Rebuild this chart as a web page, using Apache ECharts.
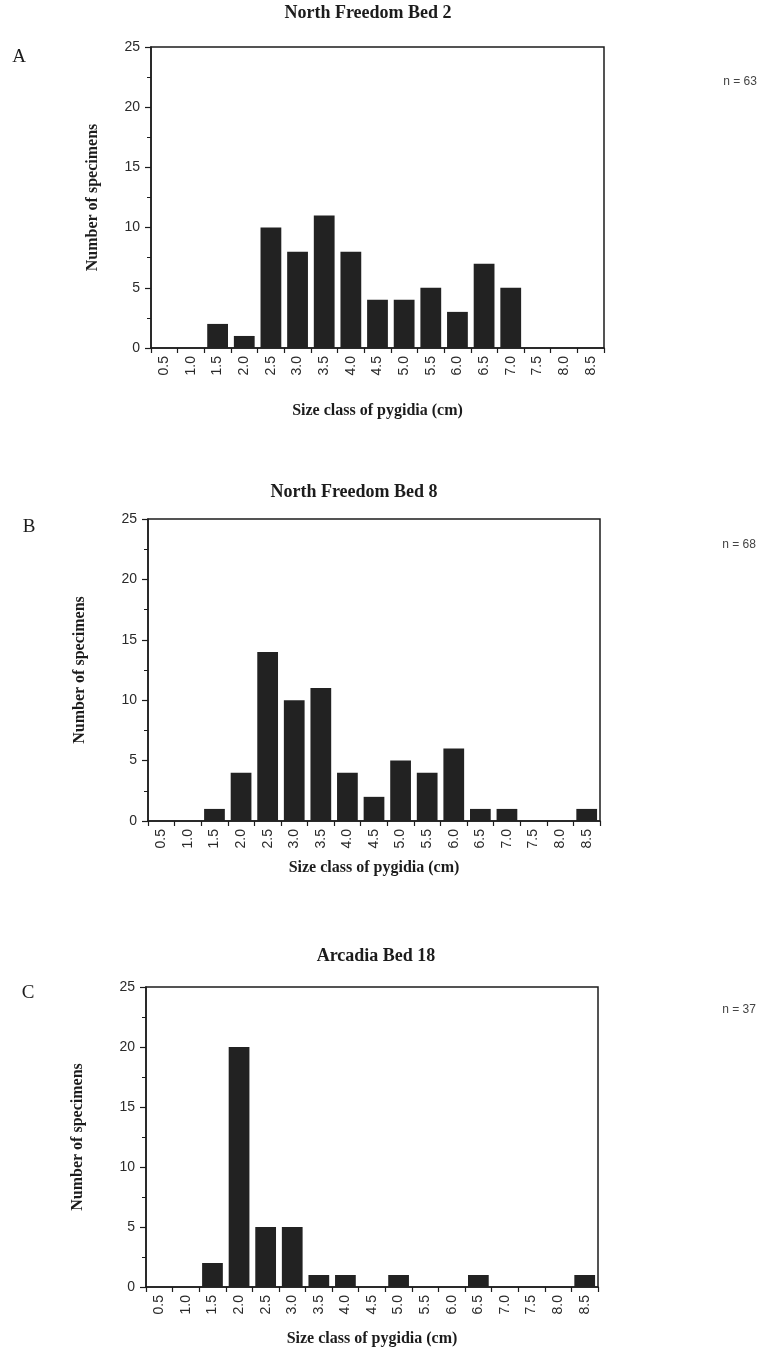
<!DOCTYPE html>
<html>
<head>
<meta charset="utf-8">
<script src="https://cdn.jsdelivr.net/npm/echarts@6/dist/echarts.min.js"></script>
<style>
html,body{margin:0;padding:0;background:#fff;}
#c{width:772px;height:1372px;}
</style>
</head>
<body>
<div id="c"></div>
<script>
const sizeClasses = ['0.5','1.0','1.5','2.0','2.5','3.0','3.5','4.0','4.5','5.0','5.5','6.0','6.5','7.0','7.5','8.0','8.5'];
const bed2Counts  = [0,0,2,1,10,8,11,8,4,4,5,3,7,5,0,0,0];
const bed8Counts  = [0,0,1,4,14,10,11,4,2,5,4,6,1,1,0,0,1];
const arc18Counts = [0,0,2,20,5,5,1,1,0,1,0,0,1,0,0,0,1];
const panelTitles = ['North Freedom Bed 2','North Freedom Bed 8','Arcadia Bed 18'];
const panelLetters = ['A','B','C'];
const sampleSizes = ['n = 63','n = 68','n = 37'];
const yTitle = 'Number of specimens';
const xTitle = 'Size class of pygidia (cm)';

const SERIF = '"Liberation Serif","DejaVu Serif",serif';
const SANS = '"Liberation Sans",Arial,sans-serif';
const INK = '#1c1c1c';

const grids = [
  {left:151, top:47, width:453, height:301},
  {left:148, top:519, width:452, height:302},
  {left:146, top:987, width:452, height:300}
];
const yNameGaps = [50, 60, 60];
const xNameGaps = [55, 39, 44];
const titlePos = [[368,13],[354,492],[376,956]];
const letterPos = [[19,57],[29,527],[28,993]];
const nPos = [[740,82],[739,545],[739,1010]];
const allCounts = [bed2Counts, bed8Counts, arc18Counts];

const option = {
  backgroundColor:'#fff',
  animation:false,
  grid: grids.map(g => Object.assign({show:true, borderColor:INK, borderWidth:1.5, backgroundColor:'transparent'}, g)),
  xAxis: grids.map((g,i) => ({
    type:'category', gridIndex:i, data:sizeClasses, boundaryGap:true,
    axisLine:{lineStyle:{color:INK,width:1.5}},
    axisTick:{show:true, length:5, inside:false, lineStyle:{color:INK,width:1.2}},
    axisLabel:{rotate:90, margin:8, fontSize:14, fontFamily:SANS, color:'#2a2a2a', interval:0},
    name:xTitle, nameLocation:'middle', nameGap:xNameGaps[i],
    nameTextStyle:{fontFamily:SERIF, fontWeight:'bold', fontSize:16, color:INK},
    splitLine:{show:false}
  })),
  yAxis: grids.map((g,i) => ({
    type:'value', gridIndex:i, min:0, max:25, interval:5,
    axisLine:{show:true, lineStyle:{color:INK,width:1.5}},
    axisTick:{show:true, length:6, lineStyle:{color:INK,width:1.2}},
    minorTick:{show:true, splitNumber:2, length:4, lineStyle:{color:INK,width:1}},
    axisLabel:{fontSize:14, fontFamily:SANS, color:'#2a2a2a', margin:11},
    splitLine:{show:false},
    name:yTitle, nameLocation:'middle', nameGap:yNameGaps[i],
    nameTextStyle:{fontFamily:SERIF, fontWeight:'bold', fontSize:16, color:INK}
  })),
  series: allCounts.map((d,i) => ({
    type:'bar', xAxisIndex:i, yAxisIndex:i, data:d,
    barCategoryGap:'22%',
    itemStyle:{color:'#222222'}
  })),
  graphic: [].concat(
    panelTitles.map((t,i) => ({
      type:'text', x:titlePos[i][0], y:titlePos[i][1],
      style:{text:t, font:'bold 18px '+SERIF, fill:INK, align:'center', verticalAlign:'middle', textAlign:'center', textVerticalAlign:'middle'}
    })),
    panelLetters.map((t,i) => ({
      type:'text', x:letterPos[i][0], y:letterPos[i][1],
      style:{text:t, font:'19px '+SERIF, fill:INK, align:'center', verticalAlign:'middle', textAlign:'center', textVerticalAlign:'middle'}
    })),
    sampleSizes.map((t,i) => ({
      type:'text', x:nPos[i][0], y:nPos[i][1],
      style:{text:t, font:'12px '+SANS, fill:'#444', align:'center', verticalAlign:'middle', textAlign:'center', textVerticalAlign:'middle'}
    }))
  )
};
const chart = echarts.init(document.getElementById('c'), null, {renderer:'canvas'});
chart.setOption(option);
</script>
</body>
</html>
